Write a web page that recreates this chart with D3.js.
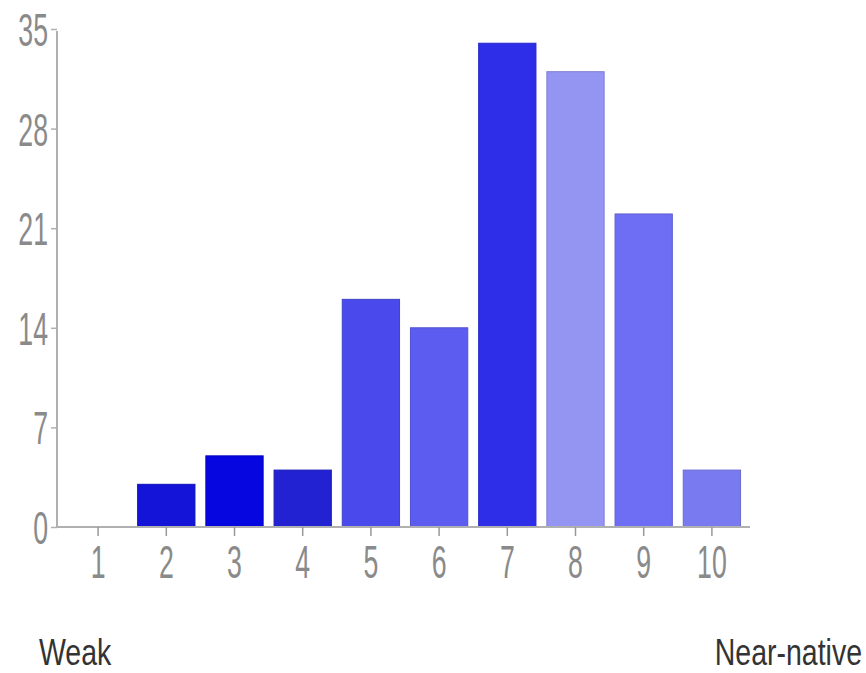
<!DOCTYPE html>
<html>
<head>
<meta charset="utf-8">
<script src="https://cdn.jsdelivr.net/npm/d3@7"></script>
<style>
  html, body { margin: 0; padding: 0; background: #fff; }
  svg { display: block; }
</style>
</head>
<body>
<svg id="chart" width="866" height="673"></svg>
<script>
const categories = ["1", "2", "3", "4", "5", "6", "7", "8", "9", "10"];
const values = [0, 3, 5, 4, 16, 14, 34, 32, 22, 4];
const barColors = ["#1414d8", "#1414d8", "#0606e0", "#2222d2", "#4a4aec", "#5c5cf0", "#2e2ee8", "#9494f2", "#6e6ef4", "#7a7af0"];
const yTicks = [0, 7, 14, 21, 28, 35];
const scaleLabels = ["Weak", "Near-native"];

const svg = d3.select("#chart");
const x = d3.scaleBand().domain(categories).range([64, 746]).paddingInner(0.16).paddingOuter(0.08);
const y = d3.scaleLinear().domain([0, 35]).range([527, 29]);

// bars
svg.append("g").selectAll("rect").data(values).join("rect")
  .attr("x", (d, i) => x(categories[i]))
  .attr("width", x.bandwidth())
  .attr("y", d => y(d))
  .attr("height", d => y(0) - y(d))
  .attr("fill", (d, i) => barColors[i])
  .attr("stroke", (d, i) => d3.color(barColors[i]).darker(0.4))
  .attr("stroke-width", 1);

// y axis
const yAxis = svg.append("g").attr("transform", "translate(57,0)")
  .call(d3.axisLeft(y).tickValues(yTicks).tickSize(6).tickFormat(""));
yAxis.select(".domain").attr("stroke", "#b0b0b0").attr("stroke-width", 2)
  .attr("d", `M0,${y(35) + 2}V${y(0)}`);
yAxis.selectAll(".tick line").attr("stroke", "#b0b0b0").attr("stroke-width", 1.5);

// x axis
const xAxis = svg.append("g").attr("transform", `translate(0,${y(0)})`)
  .call(d3.axisBottom(x).tickSize(9).tickFormat(""));
xAxis.select(".domain").attr("stroke", "#b0b0b0").attr("stroke-width", 2)
  .attr("d", "M57,0H750");
xAxis.selectAll(".tick line").attr("stroke", "#999").attr("stroke-width", 1.5);

// y labels
svg.append("g").selectAll("text").data(yTicks).join("text")
  .attr("transform", d => `translate(48,${y(d) + 17}) scale(0.58,1)`)
  .attr("text-anchor", "end")
  .attr("font-family", "Liberation Sans, Arial, sans-serif")
  .attr("font-size", 46)
  .attr("fill", "#8a8a8a")
  .text(d => d);

// x labels
svg.append("g").selectAll("text").data(categories).join("text")
  .attr("transform", d => `translate(${x(d) + x.bandwidth() / 2},578) scale(0.58,1)`)
  .attr("text-anchor", "middle")
  .attr("font-family", "Liberation Sans, Arial, sans-serif")
  .attr("font-size", 46)
  .attr("fill", "#8a8a8a")
  .text(d => d);

// scale endpoint labels
svg.append("text")
  .attr("transform", "translate(39,665) scale(0.77,1)")
  .attr("font-family", "Liberation Sans, Arial, sans-serif")
  .attr("font-size", 37)
  .attr("fill", "#333")
  .text(scaleLabels[0]);
svg.append("text")
  .attr("transform", "translate(862,665) scale(0.77,1)")
  .attr("text-anchor", "end")
  .attr("font-family", "Liberation Sans, Arial, sans-serif")
  .attr("font-size", 37)
  .attr("fill", "#333")
  .text(scaleLabels[1]);
</script>
</body>
</html>
